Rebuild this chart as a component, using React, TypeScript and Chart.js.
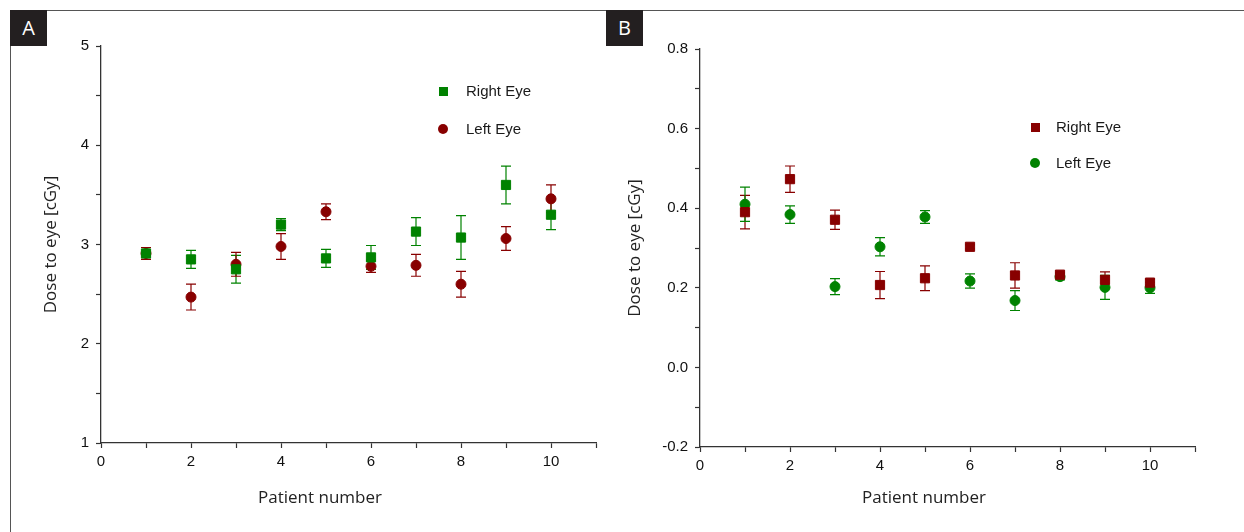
import React, { useEffect, useRef } from "react";
import { Chart, registerables } from "chart.js";
Chart.register(...registerables);

// ---------- data ----------
const patients = [1, 2, 3, 4, 5, 6, 7, 8, 9, 10];

// Panel A
const aRight = [2.91, 2.85, 2.75, 3.2, 2.86, 2.87, 3.13, 3.07, 3.6, 3.3];
const aRightErr = [0.06, 0.09, 0.14, 0.06, 0.09, 0.12, 0.14, 0.22, 0.19, 0.15];
const aLeft = [2.91, 2.47, 2.8, 2.98, 3.33, 2.78, 2.79, 2.6, 3.06, 3.46];
const aLeftErr = [0.06, 0.13, 0.12, 0.13, 0.08, 0.06, 0.11, 0.13, 0.12, 0.14];

// Panel B
const bRight = [0.39, 0.473, 0.371, 0.207, 0.224, 0.303, 0.231, 0.233, 0.22, 0.213];
const bRightErr = [0.042, 0.033, 0.024, 0.034, 0.031, 0.005, 0.032, 0.006, 0.02, 0.008];
const bLeft = [0.41, 0.384, 0.203, 0.303, 0.378, 0.217, 0.168, 0.228, 0.201, 0.2];
const bLeftErr = [0.043, 0.022, 0.02, 0.023, 0.016, 0.018, 0.025, 0.008, 0.03, 0.014];

const seriesNames = ["Right Eye", "Left Eye"];
const xTitle = "Patient number";
const yTitle = "Dose to eye [cGy]";

const GREEN = "#008200";
const RED = "#880000";
const AXIS = "#333333";
const TICK_FONT = { family: "Liberation Sans", size: 15 };
const TITLE_FAMILY = "Open Sans";

const errorBarPlugin = {
  id: "errorBars",
  beforeDatasetsDraw(chart: any, _args: any, opts: any) {
    const errs = opts && opts.errors;
    if (!errs) return;
    const ctx = chart.ctx;
    const xS = chart.scales.x;
    const yS = chart.scales.y;
    ctx.save();
    chart.data.datasets.forEach((ds: any, i: number) => {
      const e = errs[i];
      if (!e) return;
      ctx.strokeStyle = ds.borderColor;
      ctx.lineWidth = 1.2;
      ds.data.forEach((p: any, j: number) => {
        const x = xS.getPixelForValue(p.x);
        const y1 = yS.getPixelForValue(p.y + e[j]);
        const y2 = yS.getPixelForValue(p.y - e[j]);
        ctx.beginPath();
        ctx.moveTo(x, y1);
        ctx.lineTo(x, y2);
        ctx.moveTo(x - 5, y1);
        ctx.lineTo(x + 5, y1);
        ctx.moveTo(x - 5, y2);
        ctx.lineTo(x + 5, y2);
        ctx.stroke();
      });
    });
    ctx.restore();
  },
};

type PanelProps = {
  left: number;
  width: number;
  right: number[];
  rightErr: number[];
  leftV: number[];
  leftErr: number[];
  rightColor: string;
  leftColor: string;
  yMin: number;
  yMax: number;
  yStep: number;
  yLabel: (v: number) => string;
  axisWidth: number;
  axisHeight: number;
  padTop: number;
  padRight: number;
  titlePad: number;
};

function Panel(p: PanelProps) {
  const ref = useRef<HTMLCanvasElement | null>(null);
  useEffect(() => {
    if (!ref.current) return;
    const chart = new Chart(ref.current, {
      type: "scatter",
      data: {
        datasets: [
          {
            label: seriesNames[0],
            data: patients.map((x, i) => ({ x, y: p.right[i] })),
            pointStyle: "rect",
            pointRadius: 6.5,
            backgroundColor: p.rightColor,
            borderColor: p.rightColor,
            borderWidth: 1,
          },
          {
            label: seriesNames[1],
            data: patients.map((x, i) => ({ x, y: p.leftV[i] })),
            pointStyle: "circle",
            pointRadius: 5,
            backgroundColor: p.leftColor,
            borderColor: p.leftColor,
            borderWidth: 1,
          },
        ],
      },
      options: {
        animation: false,
        responsive: false,
        devicePixelRatio: 1,
        layout: { padding: { left: 0, top: p.padTop, right: p.padRight, bottom: 0 } },
        plugins: {
          legend: { display: false },
          tooltip: { enabled: false },
          errorBars: { errors: [p.rightErr, p.leftErr] },
        } as any,
        scales: {
          x: {
            type: "linear",
            min: 0,
            max: 11,
            afterFit: (s: any) => {
              s.height = p.axisHeight;
            },
            ticks: {
              stepSize: 1,
              autoSkip: false,
              maxRotation: 0,
              padding: 5,
              color: "#111",
              font: TICK_FONT,
              callback: (v: any) => (Number(v) % 2 === 0 ? String(v) : ""),
            },
            grid: {
              drawOnChartArea: false,
              drawTicks: true,
              tickLength: 5,
              tickColor: AXIS,
              tickWidth: 1.2,
            },
            border: { display: true, color: AXIS, width: 1.3 },
          },
          y: {
            type: "linear",
            min: p.yMin,
            max: p.yMax,
            afterFit: (s: any) => {
              s.width = p.axisWidth;
            },
            title: {
              display: true,
              text: yTitle,
              color: "#222",
              font: { family: TITLE_FAMILY, size: 17 },
              padding: { top: p.titlePad, bottom: 0 },
            },
            ticks: {
              stepSize: p.yStep,
              autoSkip: false,
              padding: 7,
              color: "#111",
              font: TICK_FONT,
              callback: (v: any) => p.yLabel(Number(v)),
            },
            grid: {
              drawOnChartArea: false,
              drawTicks: true,
              tickLength: 5,
              tickColor: AXIS,
              tickWidth: 1.2,
            },
            border: { display: true, color: AXIS, width: 1.3 },
          },
        },
      },
      plugins: [errorBarPlugin],
    } as any);
    return () => chart.destroy();
  }, []);
  return (
    <canvas
      ref={ref}
      width={p.width}
      height={532}
      style={{ position: "absolute", left: p.left, top: 0, width: p.width, height: 532 }}
    />
  );
}

function Marker({ x, y, color, shape }: { x: number; y: number; color: string; shape: "square" | "circle" }) {
  const s = shape === "square" ? 9 : 10;
  return (
    <div
      style={{
        position: "absolute",
        left: x - s / 2,
        top: y - s / 2,
        width: s,
        height: s,
        background: color,
        borderRadius: shape === "circle" ? "50%" : 0,
      }}
    />
  );
}

function LegendText({ x, y, text }: { x: number; y: number; text: string }) {
  return (
    <div
      style={{
        position: "absolute",
        left: x,
        top: y - 10,
        height: 20,
        lineHeight: "20px",
        fontFamily: "Liberation Sans",
        fontSize: 15,
        color: "#1a1a1a",
        whiteSpace: "nowrap",
      }}
    >
      {text}
    </div>
  );
}

function XTitle({ cx, text }: { cx: number; text: string }) {
  return (
    <div
      style={{
        position: "absolute",
        left: cx - 120,
        width: 240,
        top: 486,
        height: 22,
        lineHeight: "22px",
        textAlign: "center",
        fontFamily: TITLE_FAMILY,
        fontSize: 17,
        color: "#222",
      }}
    >
      {text}
    </div>
  );
}

function PanelTag({ x, text }: { x: number; text: string }) {
  return (
    <div
      style={{
        position: "absolute",
        left: x,
        top: 10,
        width: 37,
        height: 36,
        background: "#231f20",
        color: "#fff",
        fontFamily: TITLE_FAMILY,
        fontSize: 20,
        lineHeight: "36px",
        textAlign: "center",
      }}
    >
      {text}
    </div>
  );
}

export default function App() {
  return (
    <div
      style={{
        position: "absolute",
        left: 0,
        top: 0,
        width: 1244,
        height: 532,
        background: "#fff",
        overflow: "hidden",
      }}
    >
      <Panel
        left={0}
        width={620}
        right={aRight}
        rightErr={aRightErr}
        leftV={aLeft}
        leftErr={aLeftErr}
        rightColor={GREEN}
        leftColor={RED}
        yMin={1}
        yMax={5}
        yStep={0.5}
        yLabel={(v) => (Math.abs(v - Math.round(v)) < 1e-6 ? String(Math.round(v)) : "")}
        axisWidth={101}
        axisHeight={89}
        padTop={46}
        padRight={24}
        titlePad={41}
      />
      <Panel
        left={605}
        width={639}
        right={bRight}
        rightErr={bRightErr}
        leftV={bLeft}
        leftErr={bLeftErr}
        rightColor={RED}
        leftColor={GREEN}
        yMin={-0.2}
        yMax={0.8}
        yStep={0.1}
        yLabel={(v) => {
          const k = Math.round(v * 10);
          return Math.abs(k) % 2 === 0 ? (k / 10).toFixed(1) : "";
        }}
        axisWidth={95}
        axisHeight={85}
        padTop={49}
        padRight={49}
        titlePad={20}
      />
      {/* frame */}
      <div style={{ position: "absolute", left: 10, top: 10, width: 1234, height: 1, background: "#555" }} />
      <div style={{ position: "absolute", left: 10, top: 10, width: 1, height: 522, background: "#555" }} />
      <PanelTag x={10} text="A" />
      <PanelTag x={606} text="B" />
      {/* legends */}
      <Marker x={443} y={91} color={GREEN} shape="square" />
      <LegendText x={466} y={91} text={seriesNames[0]} />
      <Marker x={443} y={129} color={RED} shape="circle" />
      <LegendText x={466} y={129} text={seriesNames[1]} />
      <Marker x={1035} y={127} color={RED} shape="square" />
      <LegendText x={1056} y={127} text={seriesNames[0]} />
      <Marker x={1035} y={163} color={GREEN} shape="circle" />
      <LegendText x={1056} y={163} text={seriesNames[1]} />
      <XTitle cx={320} text={xTitle} />
      <XTitle cx={924} text={xTitle} />
    </div>
  );
}
